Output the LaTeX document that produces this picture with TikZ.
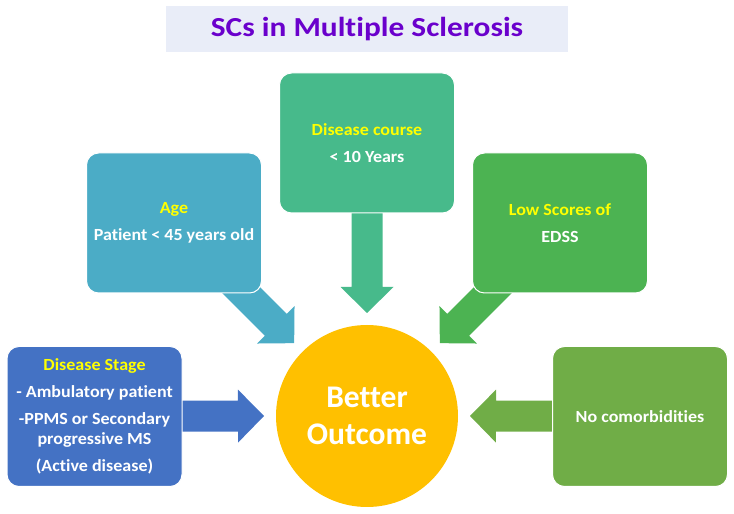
\documentclass[tikz,border=0pt]{standalone}
\usepackage{fontspec}
\setmainfont{Carlito}[Ligatures=NoCommon]
\newfontfamily\boxfont{Carlito}[FakeStretch=1.06, Ligatures=NoCommon]
\newfontfamily\headfont{Carlito}[FakeStretch=1.14, Ligatures=NoCommon]
\usetikzlibrary{calc,backgrounds}
\definecolor{titlebg}{RGB}{233,237,248}
\definecolor{titlefg}{RGB}{106,0,204}
\definecolor{cage}{RGB}{75,172,198}
\definecolor{ccourse}{RGB}{71,186,139}
\definecolor{cedss}{RGB}{76,179,82}
\definecolor{cstage}{RGB}{68,114,196}
\definecolor{ccomorb}{RGB}{112,173,71}
\definecolor{cout}{RGB}{255,192,0}
\definecolor{hilite}{RGB}{255,255,0}
\tikzset{
  box/.style={rectangle, rounded corners=12pt, minimum width=175pt, minimum height=140pt,
    draw=white, line width=1pt, text=white, align=center, inner sep=2pt,
    font=\boxfont\fontsize{17}{19.5}\selectfont\bfseries},
  titlebox/.style={rectangle, fill=titlebg, minimum width=402pt, minimum height=46pt,
    text=titlefg, font=\headfont\fontsize{27.5}{32}\selectfont\bfseries},
  outcome/.style={circle, fill=cout, minimum size=182pt, inner sep=0pt, text=white,
    align=center, font=\fontsize{31.5}{37}\selectfont\bfseries},
}
\newcommand\hl[1]{{\color{hilite}#1}}
\newcommand\fatarrow[3]{%
  \coordinate (fa-b) at ($(#2)!26pt!(#1)$);
  \fill[#3] ($(#1)!15.5pt!90:(#2)$) -- ($(fa-b)!15.5pt!90:(#2)$) -- ($(fa-b)!26.5pt!90:(#2)$)
    -- (#2) -- ($(fa-b)!26.5pt!-90:(#2)$) -- ($(fa-b)!15.5pt!-90:(#2)$) -- ($(#1)!15.5pt!-90:(#2)$) -- cycle;
}
\begin{document}
\begin{tikzpicture}[x=1pt,y=1pt]
\useasboundingbox (0,0) rectangle (734,514);
\node[titlebox] (title) at (367,485) {SCs in Multiple Sclerosis};
\node[outcome] (out) at (367,98) {Better\\Outcome};
\node[box, fill=cage] (age) at (174,291) {\hl{Age}\\[7.5pt]Patient < 45 years old};
\node[box, fill=ccourse] (course) at (367,371) {\hl{Disease course}\\[7.5pt]< 10 Years};
\node[box, fill=cedss] (edss) at (560,291) {\hl{Low Scores of}\\[7.5pt]EDSS};
\node[box, fill=cstage] (stage) at (94.5,97.5) {\hl{Disease Stage}\\[7.5pt]- Ambulatory patient\\[7.5pt]-PPMS or Secondary\\progressive MS\\[7.5pt](Active disease)};
\node[box, fill=ccomorb] (comorb) at (640,97.5) {No comorbidities};
\coordinate (tipage) at ($(out.center)+(135:103)$);
\coordinate (tipcourse) at ($(out.center)+(90:103)$);
\coordinate (tipedss) at ($(out.center)+(45:103)$);
\coordinate (tipstage) at ($(out.center)+(180:103)$);
\coordinate (tipcomorb) at ($(out.center)+(0:103)$);
\begin{scope}[on background layer]
\fatarrow{age.center}{tipage}{cage}
\fatarrow{course.center}{tipcourse}{ccourse}
\fatarrow{edss.center}{tipedss}{cedss}
\fatarrow{stage.center}{tipstage}{cstage}
\fatarrow{comorb.center}{tipcomorb}{ccomorb}
\end{scope}
\end{tikzpicture}
\end{document}
